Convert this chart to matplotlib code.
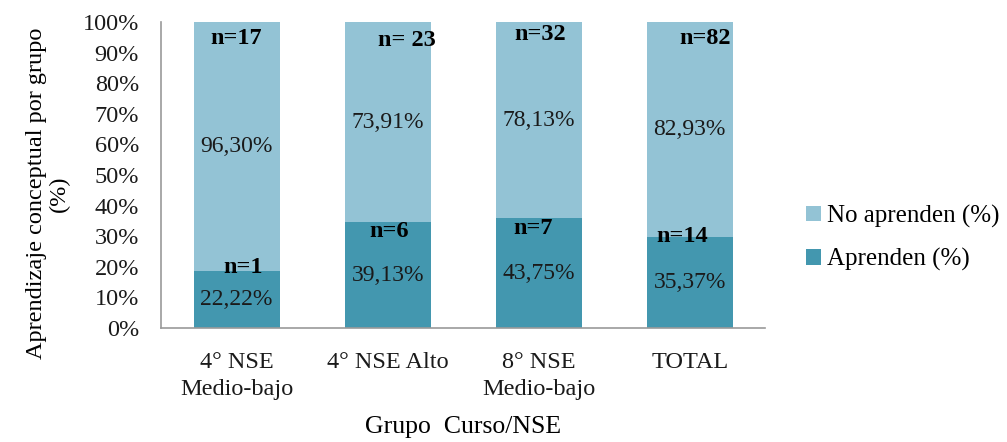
import numpy as np
import matplotlib
matplotlib.use("Agg")
from matplotlib import pyplot as plt
from matplotlib.ticker import PercentFormatter

plt.rcParams["font.family"] = ["Liberation Serif", "DejaVu Serif"]

groups = ["4° NSE\nMedio-bajo", "4° NSE Alto", "8° NSE\nMedio-bajo", "TOTAL"]
aprenden = [22.22, 39.13, 43.75, 35.37]
no_aprenden = [96.30, 73.91, 78.13, 82.93]
n_aprenden = ["n=1", "n=6", "n=7", "n=14"]
n_no_aprenden = ["n=17", "n= 23", "n=32", "n=82"]

# n labels sit where they were placed by hand, (x offset, y in %)
n_aprenden_pos = [(0.04, 19.9), (0.01, 31.7), (-0.04, 32.4), (-0.05, 30.0)]
n_no_aprenden_pos = [(0.0, 94.8), (0.13, 94.1), (0.01, 96.0), (0.10, 94.8)]

dark = "#4397AF"
light = "#93C3D5"

# 100% stacked: each bar normalised to its own total
a = np.array(aprenden)
b = np.array(no_aprenden)
tot = a + b
a_share = a / tot * 100
b_share = b / tot * 100

fig = plt.figure(figsize=(10.07, 4.42), dpi=100)
ax = fig.add_axes([0.160, 0.258, 0.600, 0.692])

x = np.arange(len(groups))
bars_a = ax.bar(x, a_share, width=0.57, color=dark, label="Aprenden (%)")
bars_b = ax.bar(x, b_share, width=0.57, bottom=a_share, color=light,
                label="No aprenden (%)")

ax.bar_label(bars_a, labels=[f"{v:.2f}%".replace(".", ",") for v in aprenden],
             label_type="center", fontsize=17, color="#1a1a1a")
ax.bar_label(bars_b, labels=[f"{v:.2f}%".replace(".", ",") for v in no_aprenden],
             label_type="center", fontsize=17, color="#1a1a1a")

for i in range(len(groups)):
    dx, yy = n_aprenden_pos[i]
    ax.text(i + dx, yy, n_aprenden[i], ha="center", va="center",
            fontsize=17.5, fontweight="bold", color="black")
    dx, yy = n_no_aprenden_pos[i]
    ax.text(i + dx, yy, n_no_aprenden[i], ha="center", va="center",
            fontsize=17.5, fontweight="bold", color="black")

ax.set_xlim(-0.5, 3.5)
ax.set_ylim(0, 100)
ax.set_yticks(np.arange(0, 101, 10))
ax.yaxis.set_major_formatter(PercentFormatter(decimals=0))
ax.set_xticks(x)
ax.set_xticklabels(groups, linespacing=1.4)
ax.tick_params(axis="both", length=0, labelsize=17.5, colors="#1a1a1a")
ax.tick_params(axis="x", pad=17)
ax.tick_params(axis="y", pad=16)

for side in ["top", "right"]:
    ax.spines[side].set_visible(False)
for side in ["left", "bottom"]:
    ax.spines[side].set_color("#9a9a9a")
    ax.spines[side].set_linewidth(1.2)

ax.set_ylabel("Aprendizaje conceptual por grupo\n(%)", fontsize=17.5,
              linespacing=1.1)
ax.yaxis.set_label_coords(-0.151, 0.44)
ax.set_xlabel("Grupo  Curso/NSE", fontsize=18.5)
ax.xaxis.set_label_coords(0.5, -0.288)

handles, labels = ax.get_legend_handles_labels()
ax.legend(handles[::-1], labels[::-1], loc="center left",
          bbox_to_anchor=(1.03, 0.295), frameon=False, fontsize=18,
          handlelength=0.6, handleheight=0.6, handletextpad=0.25,
          labelspacing=0.8)

fig.savefig("out.png", dpi=100)
